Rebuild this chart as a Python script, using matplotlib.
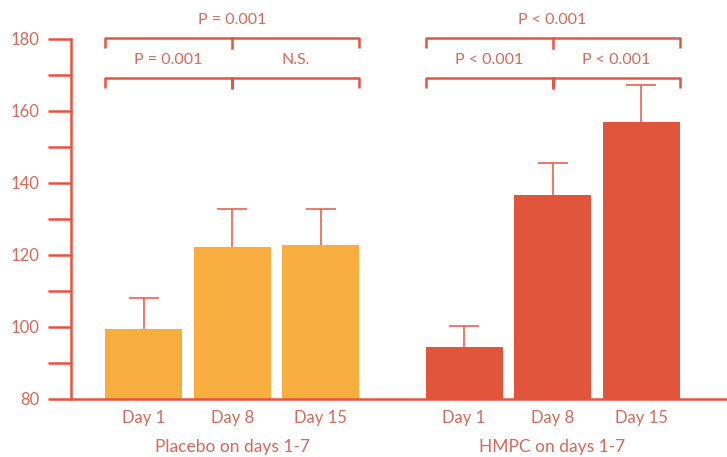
import matplotlib.pyplot as plt
import matplotlib.transforms as mtransforms

# group means and upper error (SEM) for each day
days = ['Day 1', 'Day 8', 'Day 15']
groups = ['Placebo on days 1-7', 'HMPC on days 1-7']
placebo_mean = [99.5, 122.2, 122.7]
placebo_err = [8.5, 10.6, 10.1]
hmpc_mean = [94.4, 136.7, 156.8]
hmpc_err = [5.9, 8.9, 10.4]
placebo_p = ['P = 0.001', 'N.S.', 'P = 0.001']
hmpc_p = ['P < 0.001', 'P < 0.001', 'P < 0.001']

AXIS = '#e9533e'
TEXT = '#d8685a'
C_PLACEBO = '#f7ae3e'
C_HMPC = '#e0553c'

plt.rcParams['font.family'] = ['Lato', 'DejaVu Sans']

fig = plt.figure(figsize=(7.27, 4.57), dpi=100)
ax = fig.add_axes([0.0977, 0.127, 0.9023, 0.873])

pos_a = [0, 1, 2]
pos_b = [3.62, 4.62, 5.62]
width = 0.87

for pos, mean, err, col in [(pos_a, placebo_mean, placebo_err, C_PLACEBO),
                            (pos_b, hmpc_mean, hmpc_err, C_HMPC)]:
    ax.bar(pos, [m - 80 for m in mean], bottom=80, width=width, color=col, zorder=2)
    eb = ax.errorbar(pos, mean, yerr=[[0] * 3, err], fmt='none', ecolor=AXIS,
                     elinewidth=1.1, capsize=11, capthick=1.1, zorder=1)
    # only the upper cap is wanted
    eb[1][0].set_visible(False)

# significance brackets
def bracket(x0, x1, y, label, drop=2.8):
    ax.plot([x0, x0, x1, x1], [y - drop, y, y, y - drop], color=AXIS,
            lw=1.8, solid_capstyle='butt', clip_on=False)
    ax.text((x0 + x1) / 2, y + 5.0, label, ha='center', va='center',
            color=TEXT, fontsize=11.5)

for pos, labels in [(pos_a, placebo_p), (pos_b, hmpc_p)]:
    left = pos[0] - width / 2
    right = pos[2] + width / 2
    mid = (left + right) / 2
    bracket(left, mid, 169.2, labels[0])
    bracket(mid, right, 169.2, labels[1])
    ax.plot([mid, mid], [169.2, 166.4], color=AXIS, lw=1.8, clip_on=False)
    bracket(left, right, 180.2, labels[2])
    ax.plot([mid, mid], [180.2, 177.4], color=AXIS, lw=1.8, clip_on=False)

ax.set_xlim(-0.82, 6.59)
ax.set_ylim(80, 190.8)

ax.set_yticks([80, 100, 120, 140, 160, 180])
ax.set_yticks([90, 110, 130, 150, 170], minor=True)
ax.tick_params(axis='y', which='both', length=16.5, width=1.8, color=AXIS,
               labelcolor=TEXT, labelsize=12, pad=6)

ax.set_xticks(pos_a + pos_b, days * 2)
ax.tick_params(axis='x', length=0, labelcolor=TEXT, labelsize=12, pad=8)

for s in ['top', 'right']:
    ax.spines[s].set_visible(False)
for s in ['left', 'bottom']:
    ax.spines[s].set_color(AXIS)
    ax.spines[s].set_linewidth(1.8)
ax.spines['left'].set_bounds(80, 180)

trans = mtransforms.blended_transform_factory(ax.transData, fig.transFigure)
ax.text(pos_a[1], 0.022, groups[0], transform=trans, ha='center', va='center',
        color=TEXT, fontsize=12.5)
ax.text(pos_b[1], 0.022, groups[1], transform=trans, ha='center', va='center',
        color=TEXT, fontsize=12.5)

fig.savefig('out.png', dpi=100)
